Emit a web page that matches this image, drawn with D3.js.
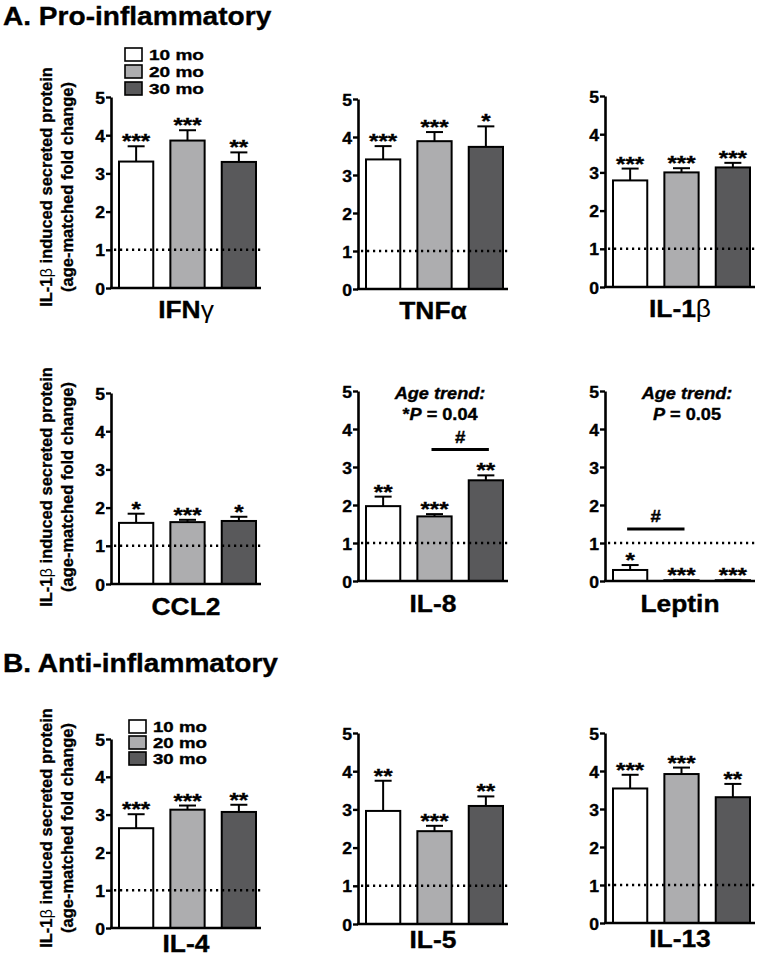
<!DOCTYPE html>
<html>
<head>
<meta charset="utf-8">
<script src="https://cdn.jsdelivr.net/npm/d3@7"></script>
<style>
  html, body { margin: 0; padding: 0; background: #fff; }
  svg { display: block; }
  text { font-family: "Liberation Sans", Arial, Helvetica, sans-serif; font-weight: bold; fill: #000; stroke: #000; stroke-width: 0.35px; }
</style>
</head>
<body>
<svg id="chart" width="760" height="960"></svg>
<script>
// ---------------- DATA ----------------
const groups = ["10 mo", "20 mo", "30 mo"];
const groupColors = ["#ffffff", "#adadaf", "#59595b"];
const analytes = ["IFNγ", "TNFα", "IL-1β", "CCL2", "IL-8", "Leptin", "IL-4", "IL-5", "IL-13"];
const meanValues = [
  [3.31, 3.86, 3.30],
  [3.41, 3.89, 3.74],
  [2.79, 3.00, 3.13],
  [1.60, 1.62, 1.65],
  [1.97, 1.70, 2.65],
  [0.29, 0.02, 0.02],
  [2.64, 3.13, 3.07],
  [2.96, 2.43, 3.09],
  [3.54, 3.92, 3.31]
];
const semValues = [
  [0.40, 0.27, 0.25],
  [0.35, 0.24, 0.54],
  [0.31, 0.11, 0.12],
  [0.24, 0.06, 0.11],
  [0.25, 0.06, 0.13],
  [0.13, 0.01, 0.01],
  [0.37, 0.11, 0.19],
  [0.79, 0.14, 0.25],
  [0.36, 0.17, 0.35]
];
const starLabels = [
  ["***", "***", "**"],
  ["***", "***", "*"],
  ["***", "***", "***"],
  ["*", "***", "*"],
  ["**", "***", "**"],
  ["*", "***", "***"],
  ["***", "***", "**"],
  ["**", "***", "**"],
  ["***", "***", "**"]
];
const yTicks = [0, 1, 2, 3, 4, 5];
const yTickLabels = ["0", "1", "2", "3", "4", "5"];
const baselineValue = 1;
const sectionTitles = ["A. Pro-inflammatory", "B. Anti-inflammatory"];
const yLabelLines = ["IL-1β induced secreted protein", "(age-matched fold change)"];
// significance brackets: panel index, from group, to group, height (fold change)
const brackets = [
  { panel: 4, from: 1, to: 2, level: 3.46, mark: "#" },
  { panel: 5, from: 0, to: 1, level: 1.37, mark: "#" }
];
const trendNotes = [
  { panel: 4, title: "Age trend:", star: "*", p: "0.04" },
  { panel: 5, title: "Age trend:", star: "", p: "0.05" }
];

// ---------------- LAYOUT ----------------
const colX = [111, 358, 605];
const panelY5 = [97, 99, 96, 393, 391, 391, 739, 733, 733];
const panelY0 = [288, 289, 287, 584, 581, 581, 928, 924, 923];
const rowLabelOffset = [30, 31, 24];
const rowYLabelCenter = [187, 487, 828];
const plotW = 150;
const SX = 1.15;

const svg = d3.select("#chart");

function txt(parent, x, y, str, size, anchor, sx) {
  return parent.append("text")
    .attr("transform", `translate(${x},${y}) scale(${sx || SX},1)`)
    .attr("text-anchor", anchor || "start")
    .style("font-size", size + "px")
    .text(str);
}

// section titles
txt(svg, 3, 25, sectionTitles[0], 26, "start", 1.08);
txt(svg, 3, 672, sectionTitles[1], 26, "start", 1.08);

// y-axis labels per row
[0, 1, 2].forEach(r => {
  const g = svg.append("g").attr("transform", `translate(0,${rowYLabelCenter[r]}) rotate(-90)`);
  const t1 = g.append("text").attr("x", 0).attr("y", 52).attr("text-anchor", "middle").style("font-size", "16.5px");
  t1.append("tspan").text("IL-1");
  t1.append("tspan").style("font-weight", "normal").style("stroke-width", "0").text("β");
  t1.append("tspan").text(" induced secreted protein");
  g.append("text").attr("x", 0).attr("y", 73).attr("text-anchor", "middle").style("font-size", "16.5px").text(yLabelLines[1]);
});

analytes.forEach((name, i) => {
  const r = Math.floor(i / 3), c = i % 3;
  const ax = colX[c];
  const y = d3.scaleLinear().domain([0, 5]).range([panelY0[i], panelY5[i]]);
  const x = d3.scaleBand().domain(groups).range([ax + 8, ax + 145]).paddingInner(0.333).paddingOuter(0);
  const g = svg.append("g");

  // bars
  groups.forEach((grp, k) => {
    const v = meanValues[i][k], e = semValues[i][k];
    const bx = x(grp), bw = x.bandwidth();
    const cx = bx + bw / 2;
    // error bar (upper)
    g.append("line").attr("x1", cx).attr("x2", cx).attr("y1", y(v)).attr("y2", y(v + e))
      .attr("stroke", "#000").attr("stroke-width", 2);
    g.append("line").attr("x1", cx - 8.5).attr("x2", cx + 8.5).attr("y1", y(v + e)).attr("y2", y(v + e))
      .attr("stroke", "#000").attr("stroke-width", 2);
    g.append("rect")
      .attr("x", bx).attr("y", y(v)).attr("width", bw).attr("height", y(0) - y(v))
      .attr("fill", groupColors[k]).attr("stroke", "#000").attr("stroke-width", 2);
    // stars
    txt(g, cx, y(v + e) + 2, starLabels[i][k], 21, "middle", 1.15);
  });

  // dotted reference line at 1 (drawn on top of bars)
  g.append("line")
    .attr("x1", ax + 3).attr("x2", ax + plotW)
    .attr("y1", y(baselineValue)).attr("y2", y(baselineValue))
    .attr("stroke", "#000").attr("stroke-width", 2.4).attr("stroke-dasharray", "2.2,3.8");

  // axes
  const yAxis = d3.axisLeft(y).tickValues(yTicks).tickFormat((d, j) => yTickLabels[j])
    .tickSize(5).tickSizeOuter(0).tickPadding(2);
  const ag = g.append("g").attr("transform", `translate(${ax},0)`).call(yAxis);
  ag.select(".domain").attr("stroke", "#000").attr("stroke-width", 2.6);
  ag.selectAll(".tick line").attr("stroke", "#000").attr("stroke-width", 2.4);
  ag.selectAll(".tick text")
    .attr("x", null).attr("dy", null)
    .attr("fill", "#000")
    .style("font-size", "16px").style("font-family", null)
    .attr("text-anchor", "end")
    .attr("transform", `translate(-6,6) scale(1.1,1)`);
  g.append("line").attr("x1", ax - 1).attr("x2", ax + plotW).attr("y1", y(0)).attr("y2", y(0))
    .attr("stroke", "#000").attr("stroke-width", 2.6);

  // category label
  const lab = txt(g, ax + 75, y(0) + rowLabelOffset[r], "", 24, "middle", 1.1);
  const greek = name.match(/[αβγ]$/);
  if (greek && name !== "TNFα") {
    lab.append("tspan").text(name.slice(0, -1));
    lab.append("tspan").style("font-weight", "normal").style("stroke-width", "0").text(greek[0]);
  } else {
    lab.text(name);
  }

  // brackets
  brackets.filter(b => b.panel === i).forEach(b => {
    const x1 = x(groups[b.from]) + x.bandwidth() / 2 - 3;
    const x2 = x(groups[b.to]) + x.bandwidth() / 2 + 3;
    g.append("line").attr("x1", x1).attr("x2", x2).attr("y1", y(b.level)).attr("y2", y(b.level))
      .attr("stroke", "#000").attr("stroke-width", 3);
    txt(g, (x1 + x2) / 2, y(b.level) - 7, b.mark, 17, "middle", 1.1);
  });

  // trend notes
  trendNotes.filter(n => n.panel === i).forEach(n => {
    const cxn = ax + 82;
    const t1 = txt(g, cxn, panelY5[i] + 8, n.title, 16.5, "middle", 1.1);
    t1.style("font-style", "italic");
    const t2 = txt(g, cxn, panelY5[i] + 29, "", 16.5, "middle", 1.1);
    if (n.star) t2.append("tspan").text(n.star);
    t2.append("tspan").style("font-style", "italic").text("P");
    t2.append("tspan").text(" = " + n.p);
  });

  // legends on first column of rows A1 and B
  if (i === 0 || i === 6) {
    const lx = i === 0 ? 125 : 129;
    const ly = i === 0 ? 48 : 720;
    const step = i === 0 ? 17 : 16;
    const fs = i === 0 ? 15 : 14;
    const sx = i === 0 ? 1.27 : 1.33;
    groups.forEach((grp, k) => {
      g.append("rect").attr("x", lx).attr("y", ly + k * step).attr("width", 17).attr("height", 13)
        .attr("fill", groupColors[k]).attr("stroke", "#000").attr("stroke-width", 1.6);
      txt(g, lx + 24, ly + k * step + 12, grp, fs, "start", sx);
    });
  }
});
</script>
</body>
</html>
